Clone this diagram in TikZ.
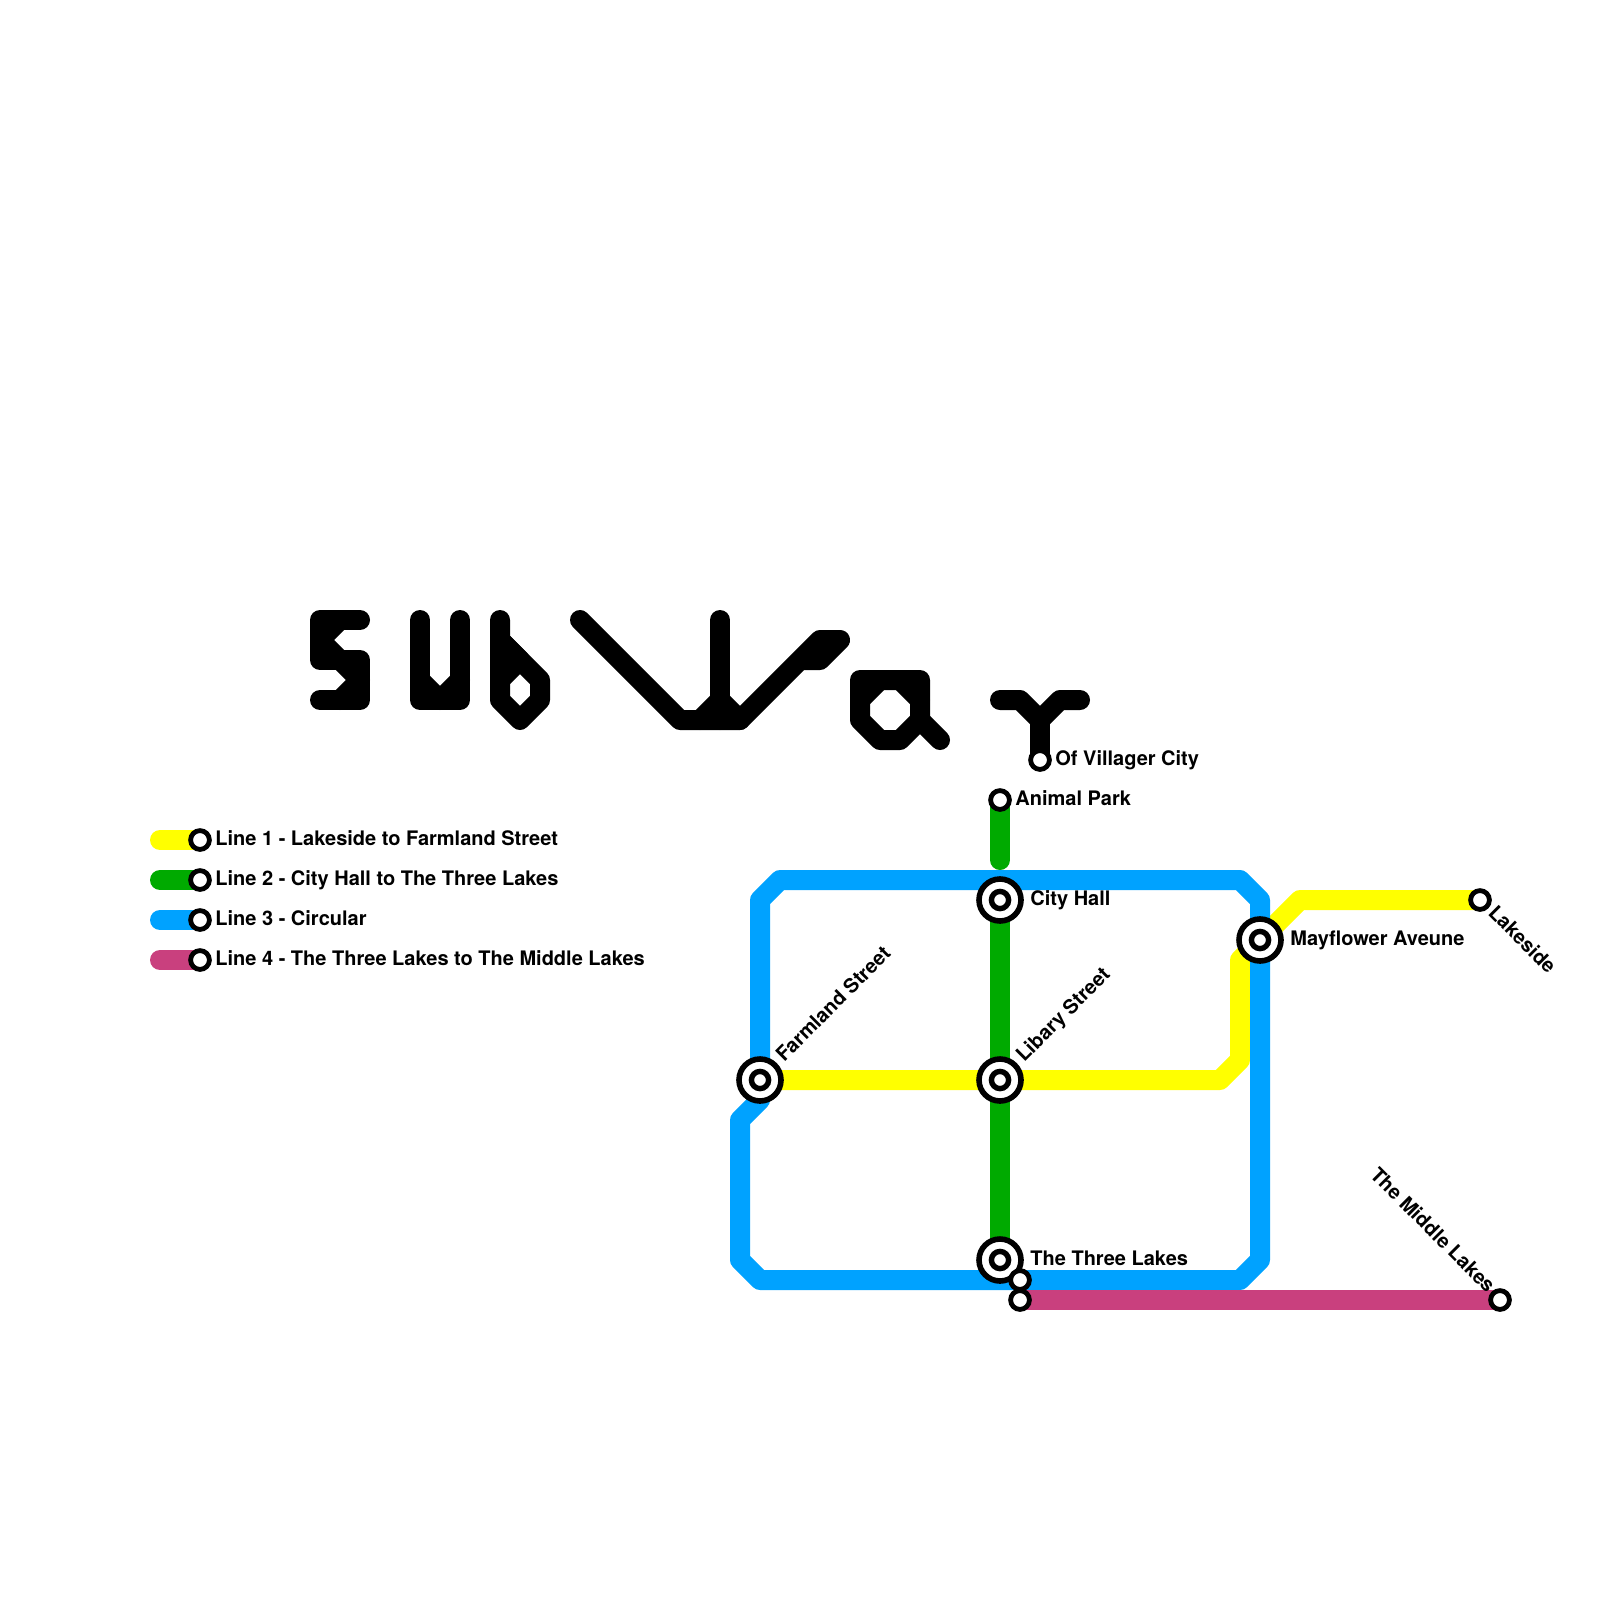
\documentclass[tikz,border=0pt]{standalone}
\usepackage{fontspec}
\setmainfont{TeX Gyre Heros}
\pgfdeclarelayer{lines}
\pgfsetlayers{lines,main}
\definecolor{lyellow}{HTML}{FFFF00}
\definecolor{lgreen}{HTML}{00AA00}
\definecolor{lblue}{HTML}{00A2FF}
\definecolor{lmag}{HTML}{C9407E}
\tikzset{
  metro/.style={line width=10pt,line cap=round,line join=round},
  glyph/.style={metro,draw=black},
  stn/.style={circle,draw=black,fill=white,line width=2.4pt,minimum size=9.4pt,inner sep=0pt,outer sep=0pt},
  xchg/.style={circle,draw=black,fill=white,line width=2.8pt,minimum size=21pt,inner sep=0pt,outer sep=0pt,
    path picture={\draw[black,line width=2.7pt] (path picture bounding box.center) circle (4.3pt);}},
  lbl/.style={font=\fontsize{10}{12}\selectfont\bfseries,inner sep=0pt,text=black},
}
\begin{document}
\begin{tikzpicture}[x=0.5pt,y=-0.5pt]
\useasboundingbox (0,0) rectangle (1600,1600);
% title glyphs
\draw[glyph] (360,620)--(320,620)--(320,660)--(360,660)--(360,700)--(320,700);
\draw[glyph] (340,620)--(320,640)--(340,660)--(360,680)--(340,700);
\draw[glyph] (420,620)--(420,700)--(460,700)--(460,620);
\draw[glyph] (420,680)--(440,700)--(460,680);
\draw[glyph] (500,620)--(500,700)--(520,720)--(540,700)--(540,680)--(500,640);
\draw[glyph,fill=black] (500,680)--(520,660)--(500,640)--cycle;
\draw[glyph] (580,620)--(680,720)--(740,720)--(820,640)--(840,640)--(820,660)--(800,660);
\draw[glyph] (720,620)--(720,720);
\draw[glyph] (700,720)--(720,700)--(740,720);
\draw[glyph] (860,680)--(920,680)--(920,720)--(900,740)--(880,740)--(860,720)--cycle;
\draw[glyph] (880,680)--(860,700);
\draw[glyph] (900,680)--(920,700);
\draw[glyph] (920,720)--(940,740);
% stations
\node[stn] (villager) at (1040,760) {};
\node[stn] (animal) at (1000,800) {};
\node[xchg] (city) at (1000,900) {};
\node[xchg] (mayflower) at (1260,940) {};
\node[stn] (lakeside) at (1480,900) {};
\node[xchg] (farmland) at (760,1080) {};
\node[xchg] (library) at (1000,1080) {};
\node[xchg] (three) at (1000,1260) {};
\node[stn] (threeb) at (1020,1280) {};
\node[stn] (threec) at (1020,1300) {};
\node[stn] (middle) at (1500,1300) {};
\node[stn] (k1) at (200,840) {};
\node[stn] (k2) at (200,880) {};
\node[stn] (k3) at (200,920) {};
\node[stn] (k4) at (200,960) {};
\coordinate (k1s) at (160,840);
\coordinate (k2s) at (160,880);
\coordinate (k3s) at (160,920);
\coordinate (k4s) at (160,960);
% corners
\coordinate (g1) at (1000,860);
\coordinate (y1) at (1300,900);
\coordinate (y2) at (1240,960);
\coordinate (y3) at (1240,1060);
\coordinate (y4) at (1220,1080);
\coordinate (b1) at (760,900);
\coordinate (b2) at (780,880);
\coordinate (b3) at (1240,880);
\coordinate (b4) at (1260,900);
\coordinate (b5) at (1260,1260);
\coordinate (b6) at (1240,1280);
\coordinate (b7) at (760,1280);
\coordinate (b8) at (740,1260);
\coordinate (b9) at (740,1120);
\coordinate (b10) at (760,1100);
\coordinate (v1) at (1000,700);
\coordinate (v2) at (1020,700);
\coordinate (v3) at (1040,720);
\coordinate (v4) at (1060,700);
\coordinate (v5) at (1080,700);
\begin{pgfonlayer}{lines}
\draw[metro,black] (v1)--(v2)--(v3)--(v4)--(v5);
\draw[metro,black] (v3)--(villager.center);
\draw[metro,lyellow] (lakeside.center)--(y1)--(mayflower.center)--(y2)--(y3)--(y4)--(library.center)--(farmland.center);
\draw[metro,lgreen] (animal.center)--(g1);
\draw[metro,lgreen] (city.center)--(library.center)--(three.center);
\draw[metro,lblue] (farmland.center)--(b1)--(b2)--(b3)--(b4)--(b5)--(b6)--(b7)--(b8)--(b9)--(b10)--cycle;
\draw[metro,lmag] (threec.center)--(middle.center);
\draw[metro,lyellow] (k1s)--(k1.center);
\draw[metro,lgreen] (k2s)--(k2.center);
\draw[metro,lblue] (k3s)--(k3.center);
\draw[metro,lmag] (k4s)--(k4.center);
\end{pgfonlayer}
% labels
\node[lbl,anchor=base west] (t1) at (215,845) {Line 1 - Lakeside to Farmland Street};
\node[lbl,anchor=base west] (t2) at (215,885) {Line 2 - City Hall to The Three Lakes};
\node[lbl,anchor=base west] (t3) at (215,925) {Line 3 - Circular};
\node[lbl,anchor=base west] (t4) at (215,965) {Line 4 - The Three Lakes to The Middle Lakes};
\node[lbl,anchor=base west] (t5) at (1055,765) {Of Villager City};
\node[lbl,anchor=base west] (t6) at (1015,805) {Animal Park};
\node[lbl,anchor=base west] (t7) at (1030,905) {City Hall};
\node[lbl,anchor=base west] (t8) at (1290,945) {Mayflower Aveune};
\node[lbl,anchor=base west] (t9) at (1030,1265) {The Three Lakes};
\node[lbl,anchor=base west,rotate=45] (t10) at (784,1063) {Farmland Street};
\node[lbl,anchor=base west,rotate=45] (t11) at (1024,1063) {Libary Street};
\node[lbl,anchor=base west,rotate=-45] (t12) at (1487,914) {Lakeside};
\node[lbl,anchor=base east,rotate=-45] (t13) at (1487,1294) {The Middle Lakes};
\end{tikzpicture}
\end{document}
